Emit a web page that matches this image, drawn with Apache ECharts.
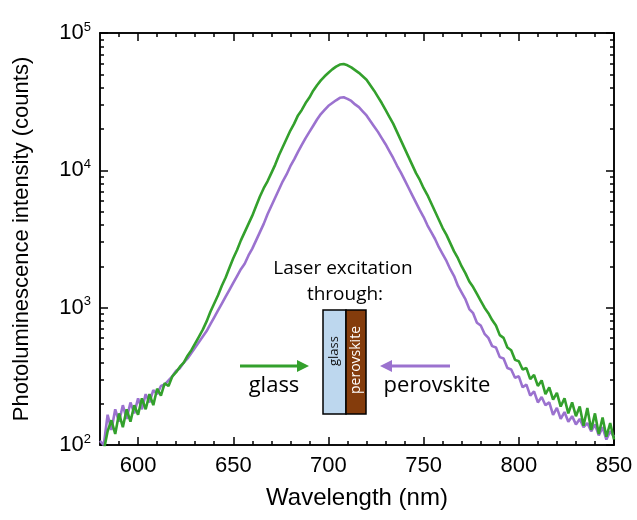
<!DOCTYPE html>
<html>
<head>
<meta charset="utf-8">
<script src="https://cdn.jsdelivr.net/npm/echarts@6/dist/echarts.min.js"></script>
<style>html,body{margin:0;padding:0;background:#fff}#c{width:637px;height:520px}</style>
</head>
<body>
<div id="c"></div>
<script>
const wavelengths = [
580,582,584,586,588,590,592,594,596,598,
600,602,604,606,608,610,612,614,616,618,
620,622,624,626,628,630,632,634,636,638,
640,642,644,646,648,650,652,654,656,658,
660,662,664,666,668,670,672,674,676,678,
680,682,684,686,688,690,692,694,696,698,
700,702,704,706,708,710,712,714,716,718,
720,722,724,726,728,730,732,734,736,738,
740,742,744,746,748,750,752,754,756,758,
760,762,764,766,768,770,772,774,776,778,
780,782,784,786,788,790,792,794,796,798,
800,802,804,806,808,810,812,814,816,818,
820,822,824,826,828,830,832,834,836,838,
840,842,844,846,848,850];
// log10(counts), excitation through glass
const glassLog10 = [
1.93,1.96,2.10,2.18,2.08,2.23,2.13,2.26,2.17,2.29,
2.22,2.34,2.26,2.37,2.29,2.41,2.36,2.45,2.43,2.50,
2.53,2.57,2.60,2.65,2.69,2.74,2.79,2.84,2.90,2.97,
3.03,3.09,3.16,3.22,3.29,3.36,3.42,3.49,3.55,3.61,
3.67,3.74,3.81,3.87,3.92,3.98,4.04,4.11,4.17,4.23,
4.29,4.34,4.40,4.44,4.49,4.53,4.58,4.62,4.655,4.685,
4.71,4.735,4.755,4.77,4.774,4.765,4.75,4.73,4.71,4.685,
4.66,4.62,4.58,4.535,4.49,4.44,4.39,4.34,4.28,4.22,
4.16,4.10,4.04,3.98,3.93,3.87,3.82,3.76,3.70,3.64,
3.58,3.53,3.47,3.41,3.36,3.30,3.25,3.19,3.15,3.10,
3.05,3.00,2.96,2.91,2.87,2.80,2.78,2.71,2.69,2.62,
2.61,2.55,2.56,2.48,2.51,2.43,2.47,2.37,2.42,2.33,
2.38,2.28,2.34,2.23,2.31,2.21,2.28,2.14,2.27,2.11,
2.23,2.08,2.20,2.06,2.16,2.04];
// log10(counts), excitation through perovskite
const perovskiteLog10 = [
2.03,2.00,2.22,2.11,2.26,2.17,2.29,2.19,2.31,2.23,
2.34,2.26,2.37,2.31,2.40,2.37,2.43,2.44,2.47,2.50,
2.54,2.56,2.60,2.63,2.67,2.71,2.75,2.79,2.83,2.88,
2.93,2.98,3.03,3.08,3.13,3.18,3.23,3.28,3.32,3.38,
3.43,3.49,3.55,3.61,3.68,3.74,3.80,3.86,3.92,3.97,
4.03,4.08,4.135,4.185,4.235,4.28,4.325,4.37,4.41,4.44,
4.47,4.49,4.51,4.528,4.532,4.52,4.505,4.48,4.46,4.43,
4.40,4.36,4.32,4.28,4.235,4.19,4.14,4.09,4.035,3.985,
3.93,3.875,3.82,3.765,3.71,3.66,3.60,3.55,3.50,3.44,
3.39,3.34,3.28,3.23,3.16,3.11,3.06,2.99,2.96,2.89,
2.87,2.81,2.78,2.72,2.71,2.64,2.63,2.56,2.55,2.49,
2.50,2.42,2.44,2.36,2.39,2.31,2.35,2.29,2.31,2.22,
2.27,2.19,2.24,2.17,2.21,2.15,2.19,2.13,2.16,2.10,
2.15,2.07,2.13,2.04,2.10,2.06];

const xMajorTicks = [600,650,700,750,800,850];
const xMinorTicks = [590,600,610,620,630,640,650,660,670,680,690,700,710,720,730,740,750,760,770,780,790,800,810,820,830,840];
const yMajorTicks = [100,1000,10000,100000];
const yMinorTicks = [200,300,400,500,600,700,800,900,2000,3000,4000,5000,6000,7000,8000,9000,20000,30000,40000,50000,60000,70000,80000,90000];

const glassData = wavelengths.map((w,i)=>[w, Math.pow(10, glassLog10[i])]);
const perovData = wavelengths.map((w,i)=>[w, Math.pow(10, perovskiteLog10[i])]);

const AX = {color:'#000', width:1.5};
const base = '"Liberation Sans", Arial, sans-serif';
const calibri = '"Open Sans", Carlito, sans-serif';

function xAx(pos, ticks, len, labels, name){
  return {
    type:'value', position:pos, min:580, max:850,
    axisLine:{show:true, onZero:false, lineStyle:AX},
    axisTick:{show:true, inside:true, length:len, lineStyle:AX, customValues:ticks},
    axisLabel:{show:labels, customValues:xMajorTicks, color:'#000', fontSize:22, fontFamily:base, margin:10},
    splitLine:{show:false},
    name:name||'', nameLocation:'middle', nameGap:41,
    nameTextStyle:{color:'#000', fontSize:24, fontFamily:base}
  };
}
function yAx(pos, ticks, len, labels, name){
  return {
    type:'log', logBase:10, position:pos, min:100, max:100000,
    axisLine:{show:true, onZero:false, lineStyle:AX},
    axisTick:{show:true, inside:true, length:len, lineStyle:AX, customValues:ticks},
    axisLabel:{show:labels, customValues:yMajorTicks, margin:9,
      formatter:function(v){ return '{b|10}{s|' + Math.round(Math.log10(v)) + '}'; },
      rich:{b:{fontSize:22, color:'#000', fontFamily:base}, s:{fontSize:13, color:'#000', fontFamily:base, padding:[0,0,12,0]}}},
    splitLine:{show:false}, minorTick:{show:false},
    name:name||'', nameLocation:'middle', nameGap:67,
    nameTextStyle:{color:'#000', fontSize:22, fontFamily:base}
  };
}

const chart = echarts.init(document.getElementById('c'), null, {renderer:'canvas'});
chart.setOption({
  animation:false,
  backgroundColor:'#fff',
  grid:{left:100, right:23, top:33, bottom:75, containLabel:false, outerBoundsMode:'none'},
  xAxis:[
    xAx('bottom', xMajorTicks, 8, true, 'Wavelength (nm)'),
    xAx('bottom', xMinorTicks, 4, false),
    xAx('top', xMajorTicks, 8, false),
    xAx('top', xMinorTicks, 4, false)
  ],
  yAxis:[
    yAx('left', yMajorTicks, 8, true, 'Photoluminescence intensity (counts)'),
    yAx('left', yMinorTicks, 4, false),
    yAx('right', yMajorTicks, 8, false),
    yAx('right', yMinorTicks, 4, false)
  ],
  series:[
    {name:'perovskite', type:'line', data:perovData, showSymbol:false, clip:true,
     lineStyle:{color:'#9b72cf', width:2.6}, itemStyle:{color:'#9b72cf'}, z:2},
    {name:'glass', type:'line', data:glassData, showSymbol:false, clip:true,
     lineStyle:{color:'#33a02c', width:2.6}, itemStyle:{color:'#33a02c'}, z:3}
  ],
  graphic:[
    {type:'text', style:{text:'Laser excitation', x:343, y:269, align:'center', verticalAlign:'middle', fontSize:19, fontFamily:calibri, fill:'#000'}},
    {type:'text', style:{text:'through:', x:345, y:295, align:'center', verticalAlign:'middle', fontSize:19, fontFamily:calibri, fill:'#000'}},
    {type:'rect', shape:{x:323, y:310, width:23, height:104}, style:{fill:'#bdd7ee', stroke:'#000', lineWidth:1.5}},
    {type:'rect', shape:{x:346, y:310, width:20, height:104}, style:{fill:'#843c0c', stroke:'#000', lineWidth:1.5}},
    {type:'text', x:334.5, y:351, rotation:Math.PI/2, style:{text:'glass', x:0, y:0, align:'center', verticalAlign:'middle', fontSize:13, fontFamily:calibri, fill:'#111'}},
    {type:'text', x:356, y:360, rotation:Math.PI/2, style:{text:'perovskite', x:0, y:0, align:'center', verticalAlign:'middle', fontSize:14, fontFamily:calibri, fill:'#fff'}},
    {type:'line', shape:{x1:240, y1:366, x2:302, y2:366}, style:{stroke:'#33a02c', lineWidth:3}},
    {type:'polygon', shape:{points:[[309,366],[297,360],[297,372]]}, style:{fill:'#33a02c'}},
    {type:'line', shape:{x1:387, y1:366, x2:450, y2:366}, style:{stroke:'#9b72cf', lineWidth:3}},
    {type:'polygon', shape:{points:[[380,366],[392,360],[392,372]]}, style:{fill:'#9b72cf'}},
    {type:'text', style:{text:'glass', x:274, y:386, align:'center', verticalAlign:'middle', fontSize:22, fontFamily:calibri, fill:'#000'}},
    {type:'text', style:{text:'perovskite', x:437, y:386, align:'center', verticalAlign:'middle', fontSize:22, fontFamily:calibri, fill:'#000'}}
  ]
});
</script>
</body>
</html>
